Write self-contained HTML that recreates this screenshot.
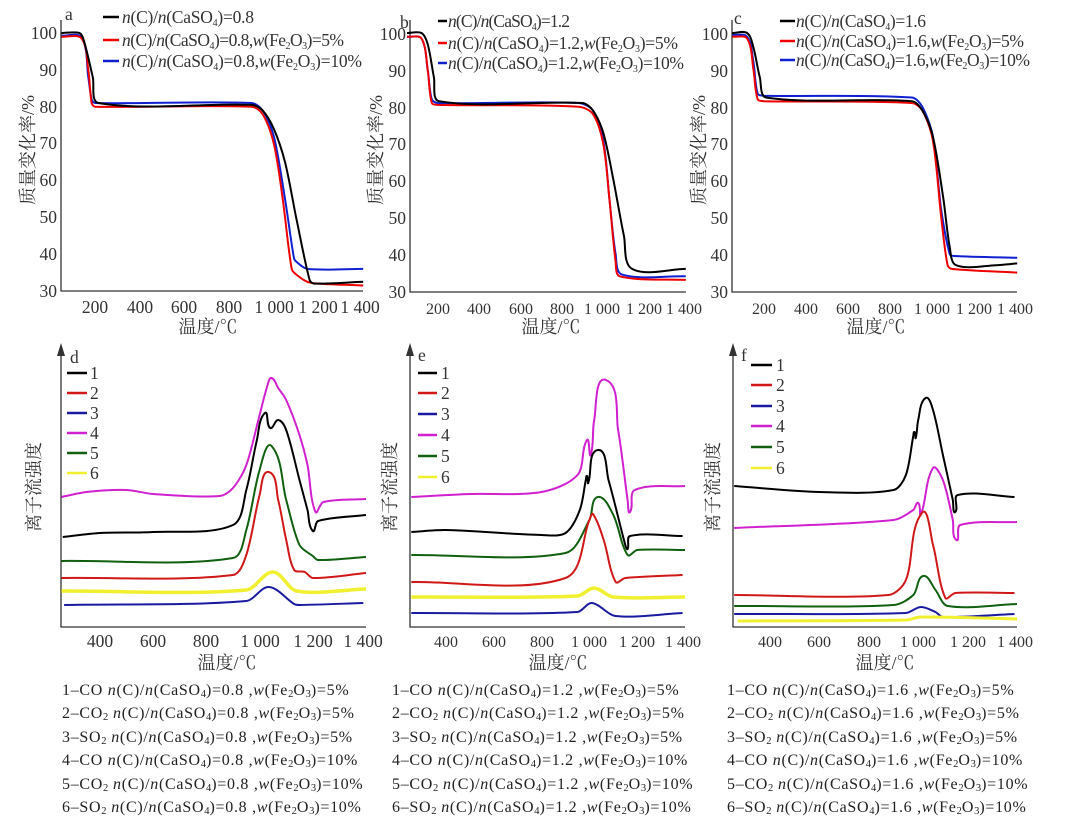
<!DOCTYPE html>
<html><head><meta charset="utf-8">
<style>
body{margin:0;background:#fff;width:1080px;height:816px;overflow:hidden;position:relative;font-family:"Liberation Serif","Noto Serif CJK SC",serif;}
svg{position:absolute;left:0;top:0;}
.cap{position:absolute;font-size:16px;letter-spacing:0.7px;line-height:23.4px;white-space:nowrap;color:#222;}
.cap sub{font-size:10.5px;vertical-align:-2px;line-height:0;letter-spacing:0;}
svg text{font-family:"Liberation Serif","Noto Serif CJK SC",serif;fill:#333;}
.tk{font-size:17.5px;}
.tks{font-size:16px;}
.lg{font-size:17.5px;}
.cn{font-family:"Liberation Serif","Noto Serif CJK SC",serif;font-size:18px;fill:#555;}
</style></head><body>
<svg id="s" width="1080" height="816" viewBox="0 0 1080 816">
<g stroke="#333" stroke-width="1.3" fill="none">
<path d="M61 20V291H363"/><path d="M410 20V292H686"/><path d="M732 20V292H1017"/>
<path d="M61 352V627H366"/><path d="M410 352V627H685"/><path d="M733 352V627H1017"/>
</g>
<g fill="#333"><path d="M57 356L61 343L65 356Z"/><path d="M406 356L410 343L414 356Z"/><path d="M729 356L733 343L737 356Z"/></g>
<g id="curves" fill="none" stroke-width="2" stroke-linejoin="round"></g>
<g class="tk" text-anchor="end">
<text x="57" y="39">100</text><text x="57" y="76">90</text><text x="57" y="113">80</text><text x="57" y="149">70</text><text x="57" y="186">60</text><text x="57" y="223">50</text><text x="57" y="260">40</text><text x="57" y="297">30</text>
<text x="406" y="40">100</text><text x="406" y="77">90</text><text x="406" y="114">80</text><text x="406" y="150">70</text><text x="406" y="187">60</text><text x="406" y="224">50</text><text x="406" y="261">40</text><text x="406" y="298">30</text>
<text x="728" y="40">100</text><text x="728" y="77">90</text><text x="728" y="114">80</text><text x="728" y="150">70</text><text x="728" y="187">60</text><text x="728" y="224">50</text><text x="728" y="261">40</text><text x="728" y="298">30</text>
</g>
<g class="tk" text-anchor="middle">
<text x="95" y="313">200</text><text x="140" y="313">400</text><text x="184" y="313">600</text><text x="229" y="313">800</text><text x="274" y="313">1 000</text><text x="318" y="313">1 200</text><text x="360" y="313">1 400</text>
<text x="100" y="647">400</text><text x="153" y="647">600</text><text x="206" y="647">800</text><text x="260" y="647">1 000</text><text x="313" y="647">1 200</text><text x="363" y="647">1 400</text>
</g>
<g class="tks" text-anchor="middle">
<text x="438" y="314">200</text><text x="479" y="314">400</text><text x="521" y="314">600</text><text x="562" y="314">800</text><text x="602" y="314">1 000</text><text x="644" y="314">1 200</text><text x="684" y="314">1 400</text>
<text x="764" y="314">200</text><text x="806" y="314">400</text><text x="848" y="314">600</text><text x="890" y="314">800</text><text x="932" y="314">1 000</text><text x="974" y="314">1 200</text><text x="1015" y="314">1 400</text>
<text x="446" y="647">400</text><text x="494" y="647">600</text><text x="542" y="647">800</text><text x="589" y="647">1 000</text><text x="637" y="647">1 200</text><text x="683" y="647">1 400</text>
<text x="770" y="647">400</text><text x="819" y="647">600</text><text x="869" y="647">800</text><text x="918" y="647">1 000</text><text x="968" y="647">1 200</text><text x="1015" y="647">1 400</text>
</g>
<g class="cn" text-anchor="middle">
<text x="208" y="333">温度/℃</text><text x="551" y="333">温度/℃</text><text x="876" y="333">温度/℃</text>
<text x="227" y="669">温度/℃</text><text x="558" y="669">温度/℃</text><text x="885" y="669">温度/℃</text>
<text transform="translate(34,150) rotate(-90)">质量变化率/%</text>
<text transform="translate(382,150) rotate(-90)">质量变化率/%</text>
<text transform="translate(705,150) rotate(-90)">质量变化率/%</text>
<text transform="translate(40,487) rotate(-90)">离子流强度</text>
<text transform="translate(396,487) rotate(-90)">离子流强度</text>
<text transform="translate(719,487) rotate(-90)">离子流强度</text>
</g>
<g class="tk"><text x="65" y="20">a</text><text x="400" y="28">b</text><text x="734" y="24">c</text>
<text x="70" y="363">d</text><text x="418" y="361">e</text><text x="741" y="361">f</text></g>
<g stroke-width="2.5">
<line x1="103" y1="17" x2="119" y2="17" stroke="#000"/><line x1="103" y1="40" x2="119" y2="40" stroke="#e00"/><line x1="103" y1="61" x2="119" y2="61" stroke="#1020d0"/>
<line x1="438" y1="21" x2="447" y2="21" stroke="#000"/><line x1="438" y1="43" x2="447" y2="43" stroke="#e00"/><line x1="438" y1="63" x2="447" y2="63" stroke="#1020d0"/>
<line x1="780" y1="21" x2="795" y2="21" stroke="#000"/><line x1="780" y1="41" x2="795" y2="41" stroke="#e00"/><line x1="780" y1="60" x2="795" y2="60" stroke="#1020d0"/>
</g>
<g class="lg">
<text x="122" y="23" textLength="132"><tspan font-style="italic">n</tspan>(C)/<tspan font-style="italic">n</tspan>(CaSO<tspan font-size="10" dy="3">4</tspan><tspan dy="-3">)=0.8</tspan></text>
<text x="122" y="46" textLength="222"><tspan font-style="italic">n</tspan>(C)/<tspan font-style="italic">n</tspan>(CaSO<tspan font-size="10" dy="3">4</tspan><tspan dy="-3">)=0.8,</tspan><tspan font-style="italic">w</tspan>(Fe<tspan font-size="10" dy="3">2</tspan><tspan dy="-3">O</tspan><tspan font-size="10" dy="3">3</tspan><tspan dy="-3">)=5%</tspan></text>
<text x="122" y="67" textLength="240"><tspan font-style="italic">n</tspan>(C)/<tspan font-style="italic">n</tspan>(CaSO<tspan font-size="10" dy="3">4</tspan><tspan dy="-3">)=0.8,</tspan><tspan font-style="italic">w</tspan>(Fe<tspan font-size="10" dy="3">2</tspan><tspan dy="-3">O</tspan><tspan font-size="10" dy="3">3</tspan><tspan dy="-3">)=10%</tspan></text>
<text x="448" y="27" textLength="122"><tspan font-style="italic">n</tspan>(C)/<tspan font-style="italic">n</tspan>(CaSO<tspan font-size="10" dy="3">4</tspan><tspan dy="-3">)=1.2</tspan></text>
<text x="448" y="49" textLength="230"><tspan font-style="italic">n</tspan>(C)/<tspan font-style="italic">n</tspan>(CaSO<tspan font-size="10" dy="3">4</tspan><tspan dy="-3">)=1.2,</tspan><tspan font-style="italic">w</tspan>(Fe<tspan font-size="10" dy="3">2</tspan><tspan dy="-3">O</tspan><tspan font-size="10" dy="3">3</tspan><tspan dy="-3">)=5%</tspan></text>
<text x="448" y="69" textLength="236"><tspan font-style="italic">n</tspan>(C)/<tspan font-style="italic">n</tspan>(CaSO<tspan font-size="10" dy="3">4</tspan><tspan dy="-3">)=1.2,</tspan><tspan font-style="italic">w</tspan>(Fe<tspan font-size="10" dy="3">2</tspan><tspan dy="-3">O</tspan><tspan font-size="10" dy="3">3</tspan><tspan dy="-3">)=10%</tspan></text>
<text x="796" y="27" textLength="130"><tspan font-style="italic">n</tspan>(C)/<tspan font-style="italic">n</tspan>(CaSO<tspan font-size="10" dy="3">4</tspan><tspan dy="-3">)=1.6</tspan></text>
<text x="796" y="47" textLength="228"><tspan font-style="italic">n</tspan>(C)/<tspan font-style="italic">n</tspan>(CaSO<tspan font-size="10" dy="3">4</tspan><tspan dy="-3">)=1.6,</tspan><tspan font-style="italic">w</tspan>(Fe<tspan font-size="10" dy="3">2</tspan><tspan dy="-3">O</tspan><tspan font-size="10" dy="3">3</tspan><tspan dy="-3">)=5%</tspan></text>
<text x="796" y="66" textLength="234"><tspan font-style="italic">n</tspan>(C)/<tspan font-style="italic">n</tspan>(CaSO<tspan font-size="10" dy="3">4</tspan><tspan dy="-3">)=1.6,</tspan><tspan font-style="italic">w</tspan>(Fe<tspan font-size="10" dy="3">2</tspan><tspan dy="-3">O</tspan><tspan font-size="10" dy="3">3</tspan><tspan dy="-3">)=10%</tspan></text>
</g>
<g stroke-width="2.5">
<line x1="67" y1="373" x2="87" y2="373" stroke="#000"/><line x1="67" y1="393" x2="87" y2="393" stroke="#d01818"/><line x1="67" y1="413" x2="87" y2="413" stroke="#1a1aa0"/><line x1="67" y1="433" x2="87" y2="433" stroke="#d020d0"/><line x1="67" y1="453" x2="87" y2="453" stroke="#106010"/><line x1="67" y1="473" x2="87" y2="473" stroke="#f0f030"/>
<line x1="418" y1="373" x2="437" y2="373" stroke="#000"/><line x1="418" y1="393" x2="437" y2="393" stroke="#d01818"/><line x1="418" y1="414" x2="437" y2="414" stroke="#1a1aa0"/><line x1="418" y1="435" x2="437" y2="435" stroke="#d020d0"/><line x1="418" y1="456" x2="437" y2="456" stroke="#106010"/><line x1="418" y1="477" x2="437" y2="477" stroke="#f0f030"/>
<line x1="751" y1="365" x2="772" y2="365" stroke="#000"/><line x1="751" y1="385" x2="772" y2="385" stroke="#d01818"/><line x1="751" y1="406" x2="772" y2="406" stroke="#1a1aa0"/><line x1="751" y1="426" x2="772" y2="426" stroke="#d020d0"/><line x1="751" y1="447" x2="772" y2="447" stroke="#106010"/><line x1="751" y1="468" x2="772" y2="468" stroke="#f0f030"/>
</g>
<g class="tk">
<text x="90" y="379">1</text><text x="90" y="399">2</text><text x="90" y="419">3</text><text x="90" y="439">4</text><text x="90" y="459">5</text><text x="90" y="479">6</text>
<text x="441" y="379">1</text><text x="441" y="399">2</text><text x="441" y="420">3</text><text x="441" y="441">4</text><text x="441" y="462">5</text><text x="441" y="483">6</text>
<text x="776" y="371">1</text><text x="776" y="391">2</text><text x="776" y="412">3</text><text x="776" y="432">4</text><text x="776" y="453">5</text><text x="776" y="474">6</text>
</g>
</svg>
<div class="cap" style="left:62px;top:679px">1–CO <i>n</i>(C)/<i>n</i>(CaSO<sub>4</sub>)=0.8 ,<i>w</i>(Fe<sub>2</sub>O<sub>3</sub>)=5%<br>2–CO<sub>2</sub> <i>n</i>(C)/<i>n</i>(CaSO<sub>4</sub>)=0.8 ,<i>w</i>(Fe<sub>2</sub>O<sub>3</sub>)=5%<br>3–SO<sub>2</sub> <i>n</i>(C)/<i>n</i>(CaSO<sub>4</sub>)=0.8 ,<i>w</i>(Fe<sub>2</sub>O<sub>3</sub>)=5%<br>4–CO <i>n</i>(C)/<i>n</i>(CaSO<sub>4</sub>)=0.8 ,<i>w</i>(Fe<sub>2</sub>O<sub>3</sub>)=10%<br>5–CO<sub>2</sub> <i>n</i>(C)/<i>n</i>(CaSO<sub>4</sub>)=0.8 ,<i>w</i>(Fe<sub>2</sub>O<sub>3</sub>)=10%<br>6–SO<sub>2</sub> <i>n</i>(C)/<i>n</i>(CaSO<sub>4</sub>)=0.8 ,<i>w</i>(Fe<sub>2</sub>O<sub>3</sub>)=10%</div>
<div class="cap" style="left:392px;top:679px">1–CO <i>n</i>(C)/<i>n</i>(CaSO<sub>4</sub>)=1.2 ,<i>w</i>(Fe<sub>2</sub>O<sub>3</sub>)=5%<br>2–CO<sub>2</sub> <i>n</i>(C)/<i>n</i>(CaSO<sub>4</sub>)=1.2 ,<i>w</i>(Fe<sub>2</sub>O<sub>3</sub>)=5%<br>3–SO<sub>2</sub> <i>n</i>(C)/<i>n</i>(CaSO<sub>4</sub>)=1.2 ,<i>w</i>(Fe<sub>2</sub>O<sub>3</sub>)=5%<br>4–CO <i>n</i>(C)/<i>n</i>(CaSO<sub>4</sub>)=1.2 ,<i>w</i>(Fe<sub>2</sub>O<sub>3</sub>)=10%<br>5–CO<sub>2</sub> <i>n</i>(C)/<i>n</i>(CaSO<sub>4</sub>)=1.2 ,<i>w</i>(Fe<sub>2</sub>O<sub>3</sub>)=10%<br>6–SO<sub>2</sub> <i>n</i>(C)/<i>n</i>(CaSO<sub>4</sub>)=1.2 ,<i>w</i>(Fe<sub>2</sub>O<sub>3</sub>)=10%</div>
<div class="cap" style="left:727px;top:679px">1–CO <i>n</i>(C)/<i>n</i>(CaSO<sub>4</sub>)=1.6 ,<i>w</i>(Fe<sub>2</sub>O<sub>3</sub>)=5%<br>2–CO<sub>2</sub> <i>n</i>(C)/<i>n</i>(CaSO<sub>4</sub>)=1.6 ,<i>w</i>(Fe<sub>2</sub>O<sub>3</sub>)=5%<br>3–SO<sub>2</sub> <i>n</i>(C)/<i>n</i>(CaSO<sub>4</sub>)=1.6 ,<i>w</i>(Fe<sub>2</sub>O<sub>3</sub>)=5%<br>4–CO <i>n</i>(C)/<i>n</i>(CaSO<sub>4</sub>)=1.6 ,<i>w</i>(Fe<sub>2</sub>O<sub>3</sub>)=10%<br>5–CO<sub>2</sub> <i>n</i>(C)/<i>n</i>(CaSO<sub>4</sub>)=1.6 ,<i>w</i>(Fe<sub>2</sub>O<sub>3</sub>)=10%<br>6–SO<sub>2</sub> <i>n</i>(C)/<i>n</i>(CaSO<sub>4</sub>)=1.6 ,<i>w</i>(Fe<sub>2</sub>O<sub>3</sub>)=10%</div>
<script>
var g=document.getElementById('curves');
function tan(P,i){var a=P[i>0?i-1:i],b=P[i<P.length-1?i+1:i];var dx=b[0]-a[0],dy=b[1]-a[1],l=Math.hypot(dx,dy)||1;return[dx/l,dy/l];}
function add(P,col,w){var d='M'+P[0][0].toFixed(1)+' '+P[0][1].toFixed(1);
for(var i=0;i<P.length-1;i++){var p1=P[i],p2=P[i+1];var L=Math.hypot(p2[0]-p1[0],p2[1]-p1[1])*0.3;var t1=tan(P,i),t2=tan(P,i+1);
var c1=[p1[0]+t1[0]*L,p1[1]+t1[1]*L],c2=[p2[0]-t2[0]*L,p2[1]-t2[1]*L];
d+='C'+c1[0].toFixed(1)+' '+c1[1].toFixed(1)+' '+c2[0].toFixed(1)+' '+c2[1].toFixed(1)+' '+p2[0].toFixed(1)+' '+p2[1].toFixed(1);}
var p=document.createElementNS('http://www.w3.org/2000/svg','path');p.setAttribute('d',d);p.setAttribute('stroke',col);if(w)p.setAttribute('stroke-width',w);g.appendChild(p);}
function tga(x200,per200,pts,col){add(pts.map(function(p){return[x200+(p[0]-200)*per200/200,291-(p[1]-30)*258/70]}),col);}
function ion(x400,per100,pts,col,w){add(pts.map(function(p){return[x400+(p[0]-400)*per100/100,p[1]]}),col,w);}
var K='#000',R='#e00',B='#1020d0';
tga(95,44.7,[[50,99.3],[140,98.8],[170,88],[185,82],[200,81],[900,81],[950,79],[1000,72],[1050,55],[1090,39],[1100,38],[1150,36],[1400,36]],B);
tga(95,44.7,[[50,99],[140,98.5],[170,90],[185,81],[200,80],[900,80],[950,78],[1000,70],[1040,55],[1080,36],[1100,34.5],[1150,32.5],[1200,32],[1400,31.5]],R);
tga(95,44.7,[[50,100],[130,100],[150,98],[190,88],[215,81],[900,80.5],[950,79],[1000,74],[1050,65],[1100,50],[1160,33],[1180,32],[1400,32.5]],K);
tga(438,41.3,[[50,99],[120,98.5],[150,90],[170,82],[200,81],[880,81],[950,79],[1000,71],[1030,55],[1060,40],[1090,34.5],[1400,34]],B);
tga(438,41.3,[[50,99],[120,98.5],[150,90],[170,81],[200,80.5],[880,80],[950,78],[1000,70],[1030,55],[1060,38],[1080,34],[1400,33]],R);
tga(438,41.3,[[50,100],[120,100],[150,97],[180,88],[205,81.5],[900,81],[950,79],[1000,73],[1050,60],[1100,45],[1140,36],[1400,36]],K);
tga(764,42.2,[[50,99.5],[120,99],[150,92],[170,83.5],[200,83],[900,82.5],[950,80],[1000,72],[1040,52],[1080,40],[1100,39.5],[1400,39]],B);
tga(764,42.2,[[50,99],[120,98.5],[150,90],[170,82],[200,81.5],[900,81],[950,79],[1000,71],[1040,50],[1070,37],[1090,36],[1400,35]],R);
tga(764,42.2,[[50,100],[120,100],[150,96],[180,88],[210,82.5],[900,81.5],[950,79],[1000,72],[1050,55],[1080,42],[1110,37],[1300,37],[1400,37.5]],K);
var M='#d020d0',Kd='#000',Rd='#d01818',G='#106010',Y='#f0f030',Bd='#1a1aa0';
ion(100,26.6,[[255,497],[350,492],[500,490],[600,494],[850,496],[900,488],[950,465],[1000,415],[1030,385],[1045,378],[1070,388],[1100,400],[1150,435],[1180,465],[1210,512],[1240,502],[1400,499]],M);
ion(100,26.6,[[260,537],[400,533],[600,532],[900,525],[950,490],[990,440],[1020,413],[1040,428],[1070,420],[1100,430],[1150,480],[1180,510],[1200,531],[1220,521],[1400,515]],Kd);
ion(100,26.6,[[255,561],[900,558],[950,530],[1000,470],[1045,446],[1100,500],[1150,545],[1200,556],[1220,560],[1400,557]],G);
ion(100,26.6,[[255,578],[900,575],[950,555],[1000,495],[1035,472],[1070,500],[1100,540],[1130,570],[1170,572],[1200,578],[1400,573]],Rd);
ion(100,26.6,[[255,591],[950,590],[1050,572],[1140,591],[1400,589]],Y,3.5);
ion(100,26.6,[[265,605],[950,601],[1035,587],[1130,604],[1150,605],[1390,603]],Bd);
ion(446,23.9,[[255,497],[500,494],[800,492],[950,475],[990,440],[1005,455],[1020,420],[1070,380],[1120,430],[1160,500],[1170,512],[1190,490],[1400,486]],M);
ion(446,23.9,[[255,532],[400,530],[800,535],[900,533],[960,510],[985,480],[990,476],[995,483],[1035,450],[1080,480],[1150,545],[1160,549],[1170,536],[1390,536]],Kd);
ion(446,23.9,[[255,555],[900,553],[1000,520],[1035,497],[1100,515],[1160,555],[1200,550],[1400,550]],G);
ion(446,23.9,[[255,582],[900,578],[1000,520],[1015,514],[1060,540],[1110,582],[1150,578],[1390,575]],Rd);
ion(446,23.9,[[255,597],[950,596],[1020,588],[1100,597],[1400,597]],Y,3.5);
ion(446,23.9,[[255,613],[950,612],[1010,603],[1110,616],[1390,613]],Bd);
ion(770,24.7,[[255,486],[600,492],[900,490],[950,475],[980,436],[985,432],[990,438],[1000,420],[1030,398],[1060,410],[1100,455],[1140,500],[1150,512],[1160,495],[1390,497]],Kd);
ion(770,24.7,[[255,528],[900,520],[980,510],[1000,503],[1010,515],[1060,468],[1100,480],[1140,520],[1155,540],[1170,525],[1400,522]],M);
ion(770,24.7,[[255,595],[880,595],[950,580],[1015,513],[1060,545],[1110,598],[1150,593],[1390,593]],Rd);
ion(770,24.7,[[255,606],[900,605],[980,595],[1020,576],[1070,590],[1120,606],[1400,604]],G);
ion(770,24.7,[[255,614],[950,613],[1010,607],[1070,612],[1100,617],[1390,614]],Bd);
ion(770,24.7,[[270,621],[950,620],[1010,617],[1400,619]],Y,3);
</script>
</body></html>
